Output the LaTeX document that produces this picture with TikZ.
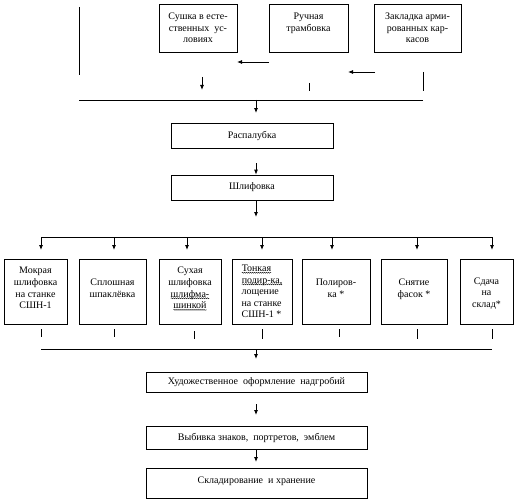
\documentclass[tikz,border=0pt]{standalone}
\usepackage{fontspec}
\setmainfont{Liberation Serif}
\usetikzlibrary{arrows.meta,decorations.pathmorphing}
\newcommand\wvyline[1]{\begin{tikzpicture}[baseline=(wv.base),x=1pt,y=1pt]\node[draw=none,inner sep=0pt,outer sep=0pt,minimum width=0pt,minimum height=0pt] (wv) {#1};\draw[line width=0.35pt,decorate,decoration={snake,amplitude=0.55pt,segment length=2pt}] ([yshift=-1.2pt]wv.base west) -- ([yshift=-1.2pt]wv.base east);\end{tikzpicture}}
\begin{document}
\begin{tikzpicture}[x=1pt,y=-1pt, line width=0.8pt,
  boxst/.style={draw, inner sep=0pt, align=center, font=\fontsize{10}{11.6}\selectfont},
  arr/.style={-{Latex[length=5pt,width=4pt]}},
]
\useasboundingbox (0,0) rectangle (517,503);
% top row
\node[boxst, minimum width=78pt, minimum height=48pt] (sushka) at (198,28) {Сушка в есте-\\ственных~ ус-\\ловиях};
\node[boxst, minimum width=79pt, minimum height=48pt] (ruchn) at (308.5,28) {Ручная\\трамбовка\\~};
\node[boxst, minimum width=87pt, minimum height=48pt] (zaklad) at (417.5,28) {Закладка арми-\\рованных кар-\\касов};
% middle
\node[boxst, minimum width=162pt, minimum height=25pt] (raspal) at (252,135.5) {Распалубка};
\node[boxst, minimum width=162pt, minimum height=25pt] (shlif) at (252,187.5) {Шлифовка};
% row of operations
\node[boxst, minimum width=63pt, minimum height=65pt] (b1) at (35.5,291.5) {Мокрая\\шлифовка\\на станке\\СШН-1\\[-4.5pt]~};
\node[boxst, minimum width=67pt, minimum height=65pt] (b2) at (112.5,291.5) {Сплошная\\шпаклёвка\\[-4.5pt]~};
\node[boxst, minimum width=62pt, minimum height=65pt] (b3) at (190,291.5) {Сухая\\шлифовка\\\wvyline{шлифма-}\\\wvyline{шинкой}\\[-4.5pt]~};
\node[boxst, align=left, minimum width=60pt, minimum height=65pt] (b4) at (262,291.5) {\wvyline{Тонкая}\\\wvyline{подир-ка,}\\лощение\\на станке\\СШН-1 *};
\node[boxst, minimum width=68pt, minimum height=65pt] (b5) at (336,291.5) {Полиров-\\ка *\\[-4.5pt]~};
\node[boxst, minimum width=66pt, minimum height=65pt] (b6) at (414,291.5) {Снятие\\фасок *\\[-4.5pt]~};
\node[boxst, minimum width=53pt, minimum height=65pt] (b7) at (486.5,291.5) {~\\[-1pt]Сдача\\на\\склад*};
% bottom column
\node[boxst, minimum width=221pt, minimum height=20pt] (hud) at (256.5,382) {Художественное~ оформление~ надгробий};
\node[boxst, minimum width=221pt, minimum height=23pt] (vyb) at (256.5,437.5) {Выбивка знаков,~ портретов,~ эмблем};
\node[boxst, minimum width=221pt, minimum height=30pt] (sklad) at (256.5,483) {Складирование~ и хранение\\[-5pt]~};

% top connectors
\coordinate (lv1) at (79,7); \coordinate (lv2) at (79,75);
\draw (lv1) -- (lv2);
\coordinate (a1s) at (269,62); \coordinate (a1e) at (237,62);
\draw[arr] (a1s) -- (a1e);
\coordinate (a2s) at (375,72); \coordinate (a2e) at (348,72);
\draw[arr] (a2s) -- (a2e);
\coordinate (d1s) at (202,77); \coordinate (d1e) at (202,90);
\draw[arr] (d1s) -- (d1e);
\coordinate (tk1) at (309,83); \coordinate (tk2) at (309,91);
\draw (tk1) -- (tk2);
\coordinate (rv1) at (423,72); \coordinate (rv2) at (423,91);
\draw (rv1) -- (rv2);
\coordinate (h1l) at (79,100); \coordinate (h1r) at (423,100);
\draw (h1l) -- (h1r);
\coordinate (h1m) at (256,100); \coordinate (h1e) at (256,113);
\draw[arr] (h1m) -- (h1e);
% raspal -> shlif
\coordinate (r2s) at (256,163);
\draw[arr] (r2s) -- (r2s |- shlif.north);
\coordinate (s2e) at (256,217);
\draw[arr] (s2e |- shlif.south) -- (s2e);
% distribution line
\coordinate (h2l) at (41,237); \coordinate (h2r) at (492,237);
\draw (h2l) -- (h2r);
\foreach \i/\x in {1/41,2/114,3/187,4/262,5/332,6/417,7/492}{
  \coordinate (ts\i) at (\x,237); \coordinate (te\i) at (\x,250);
  \draw[arr] (ts\i) -- (te\i);
}
% ticks under boxes
\foreach \i/\x/\ya/\yb in {1/41/329/337,2/114/329/337,3/194/331/339,4/262/329/339,5/339/329/337,6/417/329/339,7/492/329/339}{
  \coordinate (us\i) at (\x,\ya); \coordinate (ue\i) at (\x,\yb);
  \draw (us\i) -- (ue\i);
}
% collection line
\coordinate (h3l) at (41,349); \coordinate (h3r) at (492,349);
\draw (h3l) -- (h3r);
\coordinate (h3m) at (256,349); \coordinate (h3e) at (256,359);
\draw[arr] (h3m) -- (h3e);
\coordinate (hv1) at (256,404); \coordinate (hv2) at (256,415);
\draw[arr] (hv1) -- (hv2);
\coordinate (vs1) at (256,462);
\draw[arr] (vs1 |- vyb.south) -- (vs1);
\end{tikzpicture}
\end{document}
